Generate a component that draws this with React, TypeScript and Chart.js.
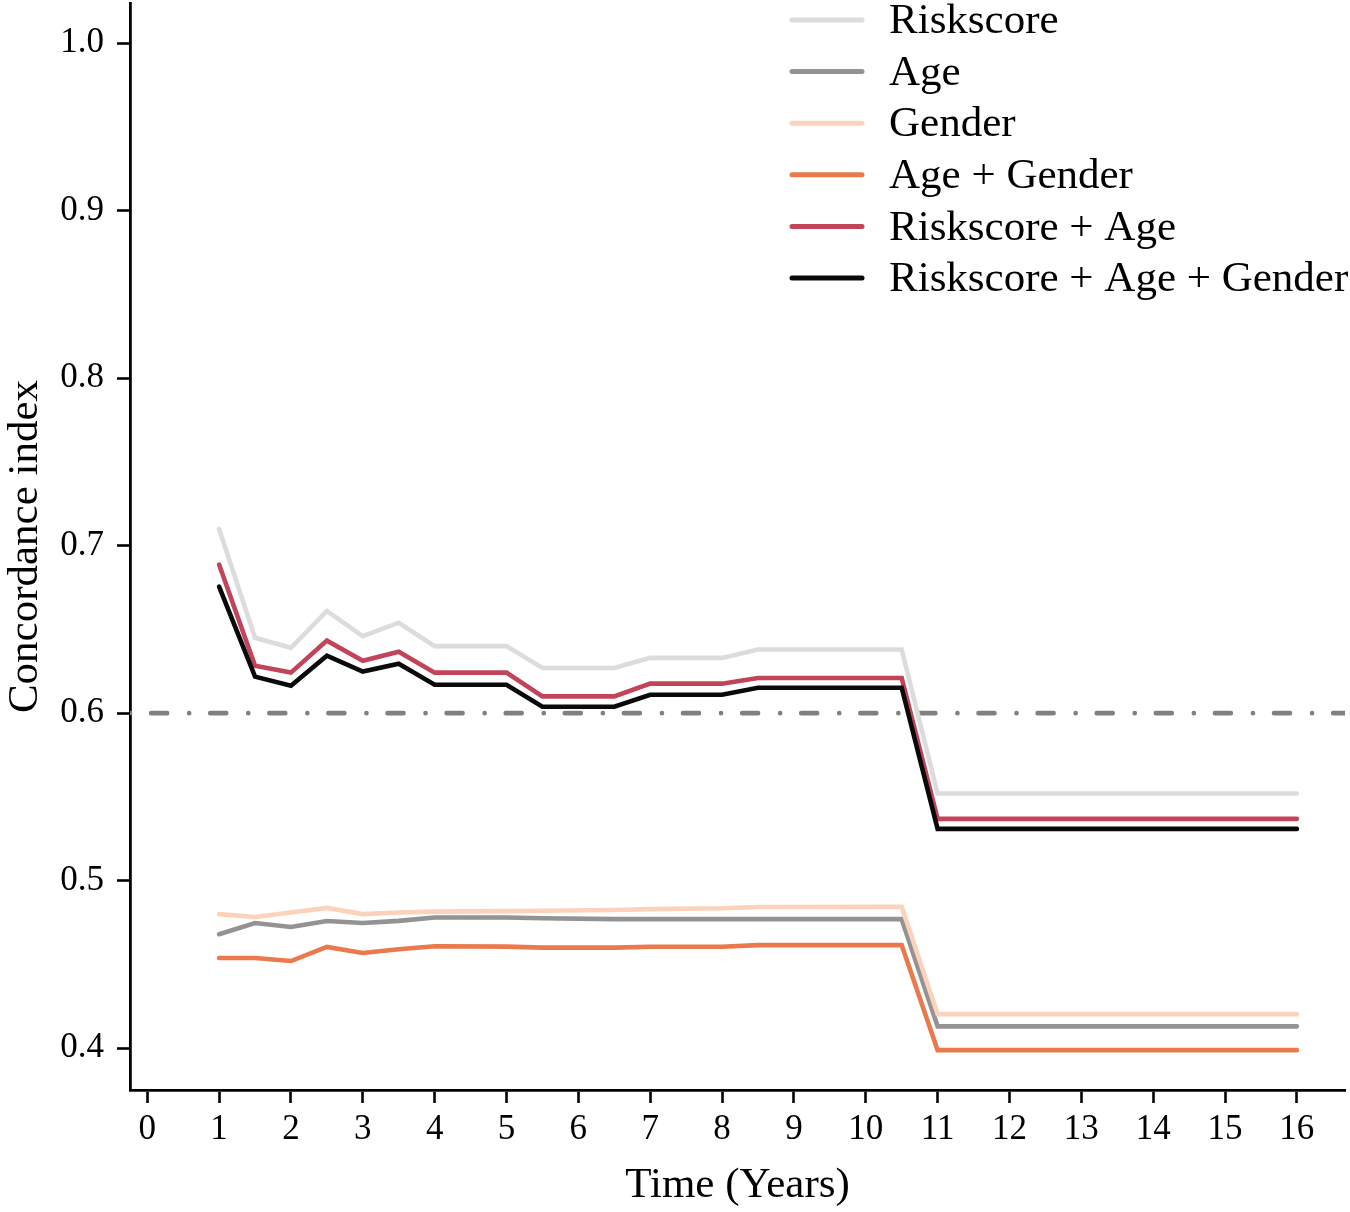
import { useEffect, useRef } from 'react'
import { Chart, registerables } from 'chart.js'

Chart.register(...registerables)

// time points (years) where the C-index was evaluated
const timePoints = [1, 1.5, 2, 2.5, 3, 3.5, 4, 5, 5.5, 6.5, 7, 8, 8.5, 10.5, 11, 16]

const riskscore = [0.710, 0.645, 0.639, 0.661, 0.646, 0.654, 0.640, 0.640, 0.627, 0.627, 0.633, 0.633, 0.638, 0.638, 0.552, 0.552]
const age = [0.468, 0.4747, 0.4723, 0.4759, 0.4747, 0.476, 0.478, 0.478, 0.4775, 0.477, 0.477, 0.477, 0.477, 0.477, 0.413, 0.413]
const gender = [0.480, 0.4783, 0.481, 0.4837, 0.480, 0.481, 0.4815, 0.4818, 0.482, 0.4825, 0.483, 0.4835, 0.4843, 0.4844, 0.4203, 0.4203]
const ageGender = [0.4538, 0.4538, 0.452, 0.4604, 0.4568, 0.459, 0.4608, 0.4606, 0.460, 0.460, 0.4605, 0.4605, 0.4615, 0.4615, 0.3988, 0.3988]
const riskscoreAge = [0.6887, 0.6283, 0.6242, 0.6433, 0.6313, 0.6367, 0.6242, 0.6242, 0.610, 0.610, 0.6176, 0.6176, 0.621, 0.621, 0.5369, 0.5369]
const riskscoreAgeGender = [0.6756, 0.6218, 0.6164, 0.6343, 0.6248, 0.6295, 0.617, 0.617, 0.6038, 0.6038, 0.611, 0.611, 0.6152, 0.6152, 0.5309, 0.5309]

const seriesNames = ['Riskscore', 'Age', 'Gender', 'Age + Gender', 'Riskscore + Age', 'Riskscore + Age + Gender']
const seriesValues = [riskscore, age, gender, ageGender, riskscoreAge, riskscoreAgeGender]
const seriesColors = ['#dcdcdc', '#939393', '#fbd2bb', '#ea7a4b', '#c14458', '#0a0a0a']

const threshold = 0.6
const xTicks = [0, 1, 2, 3, 4, 5, 6, 7, 8, 9, 10, 11, 12, 13, 14, 15, 16]
const yTicks = [0.4, 0.5, 0.6, 0.7, 0.8, 0.9, 1.0]
const xMin = -0.24
const xMax = 16.67
const yMin = 0.375
const yMax = 1.024

const serif = '"Liberation Serif", "Times New Roman", serif'

const legendPlugin = {
  id: 'sideLegend',
  afterDraw(chart: any) {
    const ctx = chart.ctx
    ctx.save()
    ctx.font = `43px ${serif}`
    ctx.textBaseline = 'middle'
    ctx.lineCap = 'round'
    seriesNames.forEach((name, i) => {
      const y = 20 + i * 51.6
      ctx.strokeStyle = seriesColors[i]
      ctx.lineWidth = 5
      ctx.beginPath()
      ctx.moveTo(792, y)
      ctx.lineTo(862, y)
      ctx.stroke()
      ctx.fillStyle = '#000'
      ctx.fillText(name, 889, y + 2)
    })
    ctx.restore()
  },
}

export default function App() {
  const chartRef = useRef<HTMLCanvasElement>(null)

  useEffect(() => {
    document.body.style.margin = '0'
    if (!chartRef.current) return
    const ctx = chartRef.current.getContext('2d')
    if (!ctx) return

    const datasets: any[] = seriesNames.map((name, i) => ({
      label: name,
      data: timePoints.map((t, j) => ({ x: t, y: seriesValues[i][j] })),
      borderColor: seriesColors[i],
      borderWidth: 4.6,
      borderCapStyle: 'round',
      borderJoinStyle: 'miter',
      pointRadius: 0,
      fill: false,
      tension: 0,
      order: 10 - i,
    }))
    datasets.push({
      label: 'threshold',
      data: [{ x: xMin, y: threshold }, { x: xMax, y: threshold }],
      borderColor: '#808080',
      borderWidth: 4.6,
      borderDash: [16, 22, 0.1, 21],
      borderDashOffset: 38,
      borderCapStyle: 'round',
      pointRadius: 0,
      fill: false,
      order: 20,
    })

    const chart = new Chart(ctx, {
      type: 'line',
      data: { datasets },
      options: {
        responsive: false,
        animation: false,
        layout: { padding: { top: 3, right: 5, left: 0, bottom: 0 } },
        plugins: {
          legend: { display: false },
          tooltip: { enabled: false },
        },
        scales: {
          x: {
            type: 'linear',
            min: xMin,
            max: xMax,
            afterBuildTicks: (scale: any) => {
              scale.ticks = xTicks.map((v) => ({ value: v }))
            },
            afterFit: (scale: any) => {
              scale.height = 122
              scale.paddingLeft = 0
              scale.paddingRight = 0
            },
            grid: {
              drawOnChartArea: false,
              drawTicks: true,
              tickLength: 13,
              tickWidth: 2.6,
              tickColor: '#000',
            },
            border: { display: true, color: '#000', width: 2.8 },
            ticks: {
              color: '#000',
              padding: 6,
              maxRotation: 0,
              autoSkip: false,
              font: { family: serif, size: 35 },
              callback: (v: any) => String(v),
            },
            title: {
              display: true,
              text: 'Time (Years)',
              color: '#000',
              font: { family: serif, size: 43 },
              padding: { top: 0, bottom: 0 },
            },
          },
          y: {
            type: 'linear',
            min: yMin,
            max: yMax,
            afterBuildTicks: (scale: any) => {
              scale.ticks = yTicks.map((v) => ({ value: v }))
            },
            afterFit: (scale: any) => {
              scale.width = 130
              scale.paddingTop = 0
              scale.paddingBottom = 0
            },
            grid: {
              drawOnChartArea: false,
              drawTicks: true,
              tickLength: 13,
              tickWidth: 2.6,
              tickColor: '#000',
            },
            border: { display: true, color: '#000', width: 2.8 },
            ticks: {
              color: '#000',
              padding: 13,
              autoSkip: false,
              font: { family: serif, size: 35 },
              callback: (v: any) => Number(v).toFixed(1),
            },
            title: {
              display: true,
              text: 'Concordance index',
              color: '#000',
              font: { family: serif, size: 43 },
              padding: { top: 0, bottom: 0 },
            },
          },
        },
      },
      plugins: [legendPlugin],
    })

    return () => chart.destroy()
  }, [])

  return (
    <div style={{ width: 1350, height: 1212, background: '#fff' }}>
      <canvas ref={chartRef} width={1350} height={1212} />
    </div>
  )
}
